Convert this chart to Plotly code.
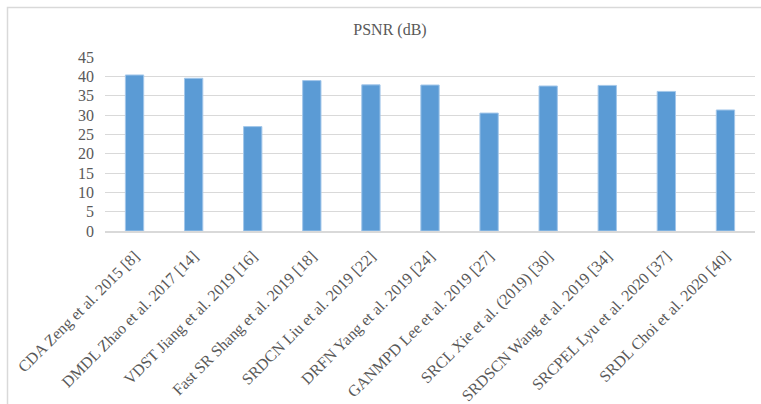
import plotly.graph_objects as go

# PSNR (dB) reported by each super-resolution method
methods = [
    "CDA Zeng et al. 2015 [8]",
    "DMDL Zhao et al. 2017 [14]",
    "VDST Jiang et al. 2019 [16]",
    "Fast SR Shang et al. 2019 [18]",
    "SRDCN Liu et al. 2019 [22]",
    "DRFN Yang et al. 2019 [24]",
    "GANMPD Lee et al. 2019 [27]",
    "SRCL Xie et al. (2019) [30]",
    "SRDSCN Wang et al. 2019 [34]",
    "SRCPEL Lyu et al. 2020 [37]",
    "SRDL Choi et al. 2020 [40]",
]
psnr = [40.35, 39.5, 27.0, 38.9, 37.8, 37.75, 30.5, 37.5, 37.65, 36.1, 31.3]

y_ticks = [0, 5, 10, 15, 20, 25, 30, 35, 40, 45]

W, H = 761, 404
ML, MR, MT, MB = 105, 6, 57, 173
plot_w = W - ML - MR
plot_h = H - MT - MB

serif = "Liberation Serif"
text_color = "#595959"
grid_color = "#d9d9d9"

fig = go.Figure(
    go.Bar(
        x=methods,
        y=psnr,
        width=0.31,
        marker=dict(color="#5b9bd5", line=dict(color="#a3c7ea", width=1)),
    )
)


def px_to_paper_x(px):
    return (px - ML) / plot_w


def px_to_paper_y(py):
    return (H - MB - py) / plot_h


# light frame around the chart area
fig.add_shape(
    type="rect",
    xref="paper",
    yref="paper",
    x0=px_to_paper_x(7.5),
    x1=px_to_paper_x(770),
    y0=px_to_paper_y(415),
    y1=px_to_paper_y(7.5),
    line=dict(color=grid_color, width=1.5),
    fillcolor="rgba(0,0,0,0)",
    layer="below",
)

fig.update_layout(
    width=W,
    height=H,
    margin=dict(l=ML, r=MR, t=MT, b=MB),
    paper_bgcolor="white",
    plot_bgcolor="white",
    showlegend=False,
    title=dict(
        text="PSNR (dB)",
        x=390 / W,
        xanchor="center",
        y=1 - 29 / H,
        yanchor="middle",
        font=dict(family=serif, size=16, color=text_color),
    ),
    xaxis=dict(
        tickangle=-45,
        tickfont=dict(family=serif, size=16, color=text_color),
        showgrid=False,
        showline=True,
        linecolor=grid_color,
        linewidth=1.5,
        ticks="",
        ticklabelstandoff=8,
        automargin=False,
    ),
    yaxis=dict(
        range=[0, 45],
        tickvals=y_ticks,
        ticktext=[str(v) for v in y_ticks],
        tickfont=dict(family=serif, size=16, color=text_color),
        showgrid=True,
        gridcolor=grid_color,
        gridwidth=1,
        zeroline=False,
        showline=False,
        ticks="",
        ticklabelstandoff=10,
        automargin=False,
    ),
)

fig.write_html("out.html")
